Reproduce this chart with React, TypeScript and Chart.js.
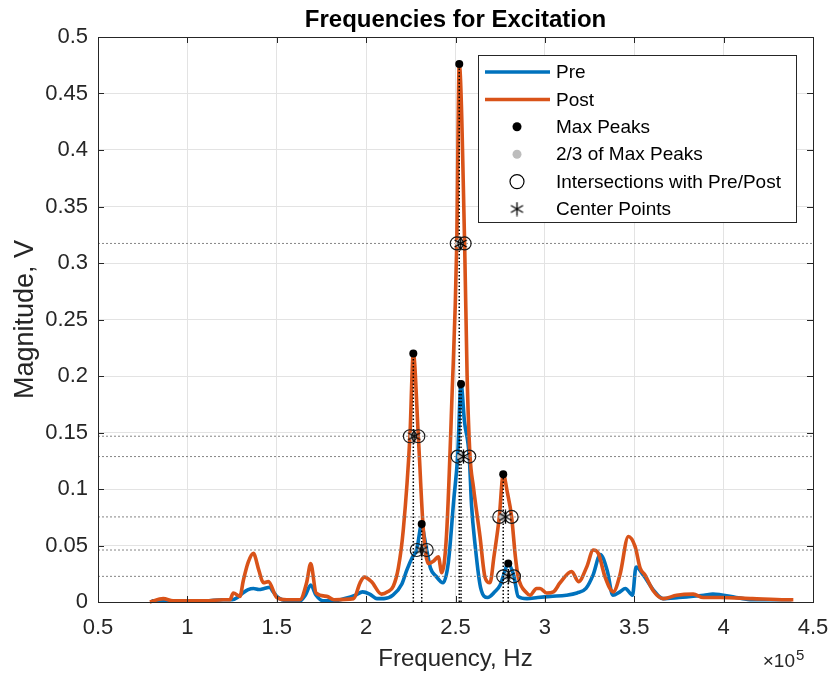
import React, { useEffect, useRef } from 'react';
import { Chart, registerables } from 'chart.js';

Chart.register(...registerables);

const FONT = '"Liberation Sans", Arial, Helvetica, sans-serif';
const PRE_COLOR = '#0072BD';
const POST_COLOR = '#D95319';
const TEXT_COLOR = '#262626';

// Frequency in units of 1e5 Hz, magnitude in V
const preCurve: [number, number][] = [
  [0.8, 0.001], [0.9, 0.001], [1.0, 0.001], [1.1, 0.001], [1.2, 0.002], [1.25, 0.002],
  [1.28, 0.004], [1.31, 0.008], [1.34, 0.011], [1.37, 0.012], [1.4, 0.011], [1.43, 0.012],
  [1.46, 0.013], [1.48, 0.009], [1.5, 0.005], [1.53, 0.002], [1.58, 0.001], [1.63, 0.001],
  [1.66, 0.006], [1.69, 0.015], [1.72, 0.006], [1.76, 0.001], [1.82, 0.001], [1.88, 0.003],
  [1.94, 0.006], [1.98, 0.009], [2.02, 0.007], [2.06, 0.003], [2.1, 0.003], [2.15, 0.006],
  [2.2, 0.016], [2.227, 0.028], [2.26, 0.04], [2.283, 0.046], [2.311, 0.069], [2.325, 0.058],
  [2.339, 0.046], [2.36, 0.03], [2.39, 0.023], [2.43, 0.017], [2.46, 0.035], [2.49, 0.09],
  [2.512, 0.1287], [2.531, 0.193], [2.55, 0.16], [2.577, 0.1287], [2.59, 0.085], [2.61, 0.05],
  [2.64, 0.013], [2.68, 0.004], [2.72, 0.009], [2.75, 0.015], [2.767, 0.0227], [2.795, 0.034],
  [2.827, 0.0227], [2.85, 0.005], [2.9, 0.003], [2.96, 0.004], [3.03, 0.005], [3.12, 0.006],
  [3.18, 0.008], [3.23, 0.012], [3.27, 0.024], [3.31, 0.042], [3.35, 0.027], [3.38, 0.006],
  [3.42, 0.009], [3.45, 0.012], [3.49, 0.006], [3.51, 0.031], [3.55, 0.024], [3.61, 0.01],
  [3.66, 0.003], [3.75, 0.004], [3.89, 0.006], [3.94, 0.007], [4.07, 0.004], [4.16, 0.002],
  [4.3, 0.002], [4.38, 0.002],
];

const postCurve: [number, number][] = [
  [0.79, 0.0], [0.865, 0.003], [0.92, 0.001], [1.0, 0.001], [1.1, 0.001], [1.2, 0.002],
  [1.238, 0.002], [1.257, 0.008], [1.294, 0.005], [1.313, 0.019], [1.34, 0.035], [1.369, 0.043],
  [1.4, 0.028], [1.425, 0.017], [1.453, 0.018], [1.5, 0.004], [1.556, 0.002], [1.63, 0.002],
  [1.667, 0.017], [1.69, 0.034], [1.72, 0.008], [1.78, 0.005], [1.82, 0.002], [1.93, 0.003],
  [1.966, 0.017], [1.99, 0.022], [2.03, 0.018], [2.086, 0.007], [2.12, 0.009], [2.152, 0.014],
  [2.18, 0.03], [2.208, 0.064], [2.245, 0.1467], [2.264, 0.22], [2.292, 0.1467], [2.32, 0.064],
  [2.348, 0.034], [2.376, 0.036], [2.404, 0.04], [2.423, 0.026], [2.45, 0.06], [2.48, 0.18],
  [2.507, 0.3173], [2.521, 0.476], [2.551, 0.3173], [2.565, 0.2], [2.581, 0.13], [2.6, 0.102],
  [2.637, 0.058], [2.665, 0.022], [2.693, 0.017], [2.715, 0.04], [2.745, 0.0753], [2.767, 0.113],
  [2.79, 0.097], [2.814, 0.0753], [2.835, 0.04], [2.851, 0.022], [2.898, 0.008], [2.917, 0.006],
  [2.954, 0.012], [2.973, 0.012], [3.01, 0.008], [3.048, 0.009], [3.085, 0.017], [3.15, 0.027],
  [3.188, 0.018], [3.234, 0.031], [3.271, 0.046], [3.299, 0.043], [3.337, 0.022], [3.383, 0.009],
  [3.42, 0.024], [3.467, 0.058], [3.505, 0.049], [3.533, 0.03], [3.56, 0.024], [3.606, 0.01],
  [3.662, 0.003], [3.737, 0.006], [3.83, 0.007], [3.886, 0.004], [3.98, 0.004], [4.16, 0.003],
  [4.35, 0.002], [4.39, 0.002],
];

// Peaks: Post 1, Pre 1, Post main, Pre main, Post 3, Pre 3
const peakFreq = [2.264, 2.311, 2.521, 2.531, 2.767, 2.795];
const peakMag = [0.22, 0.069, 0.476, 0.193, 0.113, 0.034];
const twoThirdLevel = [0.1467, 0.046, 0.3173, 0.1287, 0.0753, 0.0227];
const leftCross = [2.245, 2.283, 2.507, 2.512, 2.745, 2.767];
const rightCross = [2.292, 2.339, 2.551, 2.577, 2.814, 2.827];
const centerFreq = [2.2685, 2.311, 2.529, 2.5445, 2.7795, 2.797];

const xTickValues = [0.5, 1, 1.5, 2, 2.5, 3, 3.5, 4, 4.5];
const yTickValues = [0, 0.05, 0.1, 0.15, 0.2, 0.25, 0.3, 0.35, 0.4, 0.45, 0.5];

const legendLabels = ['Pre', 'Post', 'Max Peaks', '2/3 of Max Peaks', 'Intersections with Pre/Post', 'Center Points'];

function makeAsterisk(size: number, lw: number, color: string) {
  const c = document.createElement('canvas');
  c.width = size;
  c.height = size;
  const g = c.getContext('2d')!;
  g.strokeStyle = color;
  g.lineWidth = lw;
  const cx = size / 2;
  const cy = size / 2;
  const r = size / 2 - 0.5;
  [90, 30, 150].forEach((a) => {
    const rad = (a * Math.PI) / 180;
    g.beginPath();
    g.moveTo(cx - r * Math.cos(rad), cy - r * Math.sin(rad));
    g.lineTo(cx + r * Math.cos(rad), cy + r * Math.sin(rad));
    g.stroke();
  });
  return c;
}

export default function App() {
  const ref = useRef<HTMLCanvasElement>(null);

  useEffect(() => {
    document.body.style.margin = '0';
    const canvas = ref.current!;
    const star = makeAsterisk(15, 1.3, '#000');

    const toPts = (c: [number, number][]) => c.map(([x, y]) => ({ x, y }));
    const vLines: any[] = [];
    peakFreq.forEach((f, i) => {
      vLines.push({ x: f, y: 0 }, { x: f, y: peakMag[i] }, { x: f, y: null });
    });
    const hLines: any[] = [];
    twoThirdLevel.forEach((l) => {
      hLines.push({ x: 0.5, y: l }, { x: 4.5, y: l }, { x: 4.5, y: null });
    });
    const crossPts: any[] = [];
    twoThirdLevel.forEach((l, i) => {
      crossPts.push({ x: leftCross[i], y: l }, { x: rightCross[i], y: l });
    });
    const centerPts = centerFreq.map((f, i) => ({ x: f, y: twoThirdLevel[i] }));
    const twoThirdPts = peakFreq.map((f, i) => ({ x: f, y: twoThirdLevel[i] }));
    const peakPts = peakFreq.map((f, i) => ({ x: f, y: peakMag[i] }));

    const decor = {
      id: 'matlabDecor',
      afterDraw(chart: any) {
        const { ctx, chartArea } = chart;
        const { left, right, top, bottom } = chartArea;
        const xs = chart.scales.x;
        const ys = chart.scales.y;
        ctx.save();
        // axes box
        ctx.strokeStyle = TEXT_COLOR;
        ctx.lineWidth = 1;
        ctx.strokeRect(Math.round(left) + 0.5, Math.round(top) + 0.5, Math.round(right - left), Math.round(bottom - top));
        // inward ticks
        ctx.beginPath();
        xTickValues.forEach((v) => {
          const px = Math.round(xs.getPixelForValue(v)) + 0.5;
          ctx.moveTo(px, bottom);
          ctx.lineTo(px, bottom - 6);
          ctx.moveTo(px, top);
          ctx.lineTo(px, top + 6);
        });
        yTickValues.forEach((v) => {
          const py = Math.round(ys.getPixelForValue(v)) + 0.5;
          ctx.moveTo(left, py);
          ctx.lineTo(left + 6, py);
          ctx.moveTo(right, py);
          ctx.lineTo(right - 6, py);
        });
        ctx.stroke();

        const cx = (left + right) / 2;
        // title
        ctx.fillStyle = '#000';
        ctx.font = `bold 24px ${FONT}`;
        ctx.textAlign = 'center';
        ctx.textBaseline = 'alphabetic';
        ctx.fillText('Frequencies for Excitation', cx, 27);
        // x label
        ctx.fillStyle = TEXT_COLOR;
        ctx.font = `24px ${FONT}`;
        ctx.fillText('Frequency, Hz', cx, 666);
        // y label
        ctx.save();
        ctx.translate(33, (top + bottom) / 2);
        ctx.rotate(-Math.PI / 2);
        ctx.font = `27px ${FONT}`;
        ctx.fillText('Magnitude, V', 0, 0);
        ctx.restore();
        // exponent
        ctx.textAlign = 'right';
        ctx.font = `19px ${FONT}`;
        ctx.fillText('\u00d710', 795, 667);
        ctx.textAlign = 'left';
        ctx.font = `15px ${FONT}`;
        ctx.fillText('5', 796, 660);

        // legend
        const lx = 478.5, ly = 55.5, lw = 318, lh = 167;
        ctx.fillStyle = '#fff';
        ctx.fillRect(lx, ly, lw, lh);
        ctx.strokeStyle = TEXT_COLOR;
        ctx.lineWidth = 1;
        ctx.strokeRect(lx, ly, lw, lh);
        legendLabels.forEach((label, i) => {
          const ry = 72 + i * 27.4;
          const mx = 517;
          if (i < 2) {
            ctx.strokeStyle = i === 0 ? PRE_COLOR : POST_COLOR;
            ctx.lineWidth = 3.5;
            ctx.beginPath();
            ctx.moveTo(485, ry);
            ctx.lineTo(550, ry);
            ctx.stroke();
          } else if (i === 2 || i === 3) {
            ctx.fillStyle = i === 2 ? '#000' : '#bdbdbd';
            ctx.beginPath();
            ctx.arc(mx, ry, 4.5, 0, Math.PI * 2);
            ctx.fill();
          } else if (i === 4) {
            ctx.strokeStyle = '#000';
            ctx.lineWidth = 1.2;
            ctx.beginPath();
            ctx.arc(mx, ry, 7, 0, Math.PI * 2);
            ctx.stroke();
          } else {
            ctx.drawImage(star, mx - 7.5, ry - 7.5);
          }
          ctx.fillStyle = '#000';
          ctx.font = `19px ${FONT}`;
          ctx.textAlign = 'left';
          ctx.textBaseline = 'middle';
          ctx.fillText(label, 556, ry + 1);
        });
        ctx.restore();
      },
    };

    const chart = new Chart(canvas, {
      type: 'line',
      data: {
        datasets: [
          {
            label: 'Pre', data: toPts(preCurve), borderColor: PRE_COLOR, borderWidth: 3.6,
            pointRadius: 0, cubicInterpolationMode: 'monotone', order: 20, clip: 8,
          },
          {
            label: 'Post', data: toPts(postCurve), borderColor: POST_COLOR, borderWidth: 3.6,
            pointRadius: 0, cubicInterpolationMode: 'monotone', order: 19, clip: 8,
          },
          {
            label: 'levels', data: hLines, borderColor: '#858585', borderWidth: 1,
            borderDash: [2, 2], pointRadius: 0, spanGaps: false, order: 15,
          },
          {
            label: 'peakLines', data: vLines, borderColor: '#000', borderWidth: 1.5,
            borderDash: [1.5, 2], pointRadius: 0, spanGaps: false, order: 14,
          },
          {
            label: '2/3 of Max Peaks', data: twoThirdPts, showLine: false, pointRadius: 4,
            pointBackgroundColor: '#bdbdbd', pointBorderWidth: 0, order: 5,
          },
          {
            label: 'Intersections', data: crossPts, showLine: false, pointRadius: 6.5,
            pointBackgroundColor: 'rgba(0,0,0,0)', pointBorderColor: '#1a1a1a', pointBorderWidth: 1.2, order: 4,
          },
          {
            label: 'Center Points', data: centerPts, showLine: false, pointStyle: star as any,
            order: 3,
          },
          {
            label: 'Max Peaks', data: peakPts, showLine: false, pointRadius: 4,
            pointBackgroundColor: '#000', pointBorderWidth: 0, order: 2,
          },
        ],
      },
      options: {
        animation: false,
        responsive: false,
        events: [],
        layout: { padding: { top: 37, right: 21, left: 0, bottom: 0 } },
        plugins: {
          legend: { display: false },
          title: { display: false },
          tooltip: { enabled: false },
        },
        scales: {
          x: {
            type: 'linear', min: 0.5, max: 4.5,
            afterFit: (s: any) => { s.height = 75; s.paddingLeft = 0; s.paddingRight = 0; },
            afterBuildTicks: (s: any) => { s.ticks = xTickValues.map((v) => ({ value: v })); },
            ticks: {
              color: TEXT_COLOR, font: { family: FONT, size: 22 }, padding: 13,
              maxRotation: 0, autoSkip: false,
              callback: (v: any) => String(Number(Number(v).toFixed(2))),
            },
            grid: { color: '#e3e3e3', drawTicks: false, lineWidth: 1 },
            border: { display: false },
          },
          y: {
            type: 'linear', min: 0, max: 0.5,
            afterFit: (s: any) => { s.width = 98; s.paddingTop = 0; s.paddingBottom = 0; },
            afterBuildTicks: (s: any) => { s.ticks = yTickValues.map((v) => ({ value: v })); },
            ticks: {
              color: TEXT_COLOR, font: { family: FONT, size: 22 }, padding: 10, autoSkip: false,
              callback: (v: any) => String(Number(Number(v).toFixed(2))),
            },
            grid: { color: '#e3e3e3', drawTicks: false, lineWidth: 1 },
            border: { display: false },
          },
        },
      } as any,
      plugins: [decor],
    });

    return () => chart.destroy();
  }, []);

  return (
    <div style={{ width: 834, height: 677, background: '#fff' }}>
      <canvas ref={ref} width={834} height={677} style={{ display: 'block', width: 834, height: 677 }} />
    </div>
  );
}
